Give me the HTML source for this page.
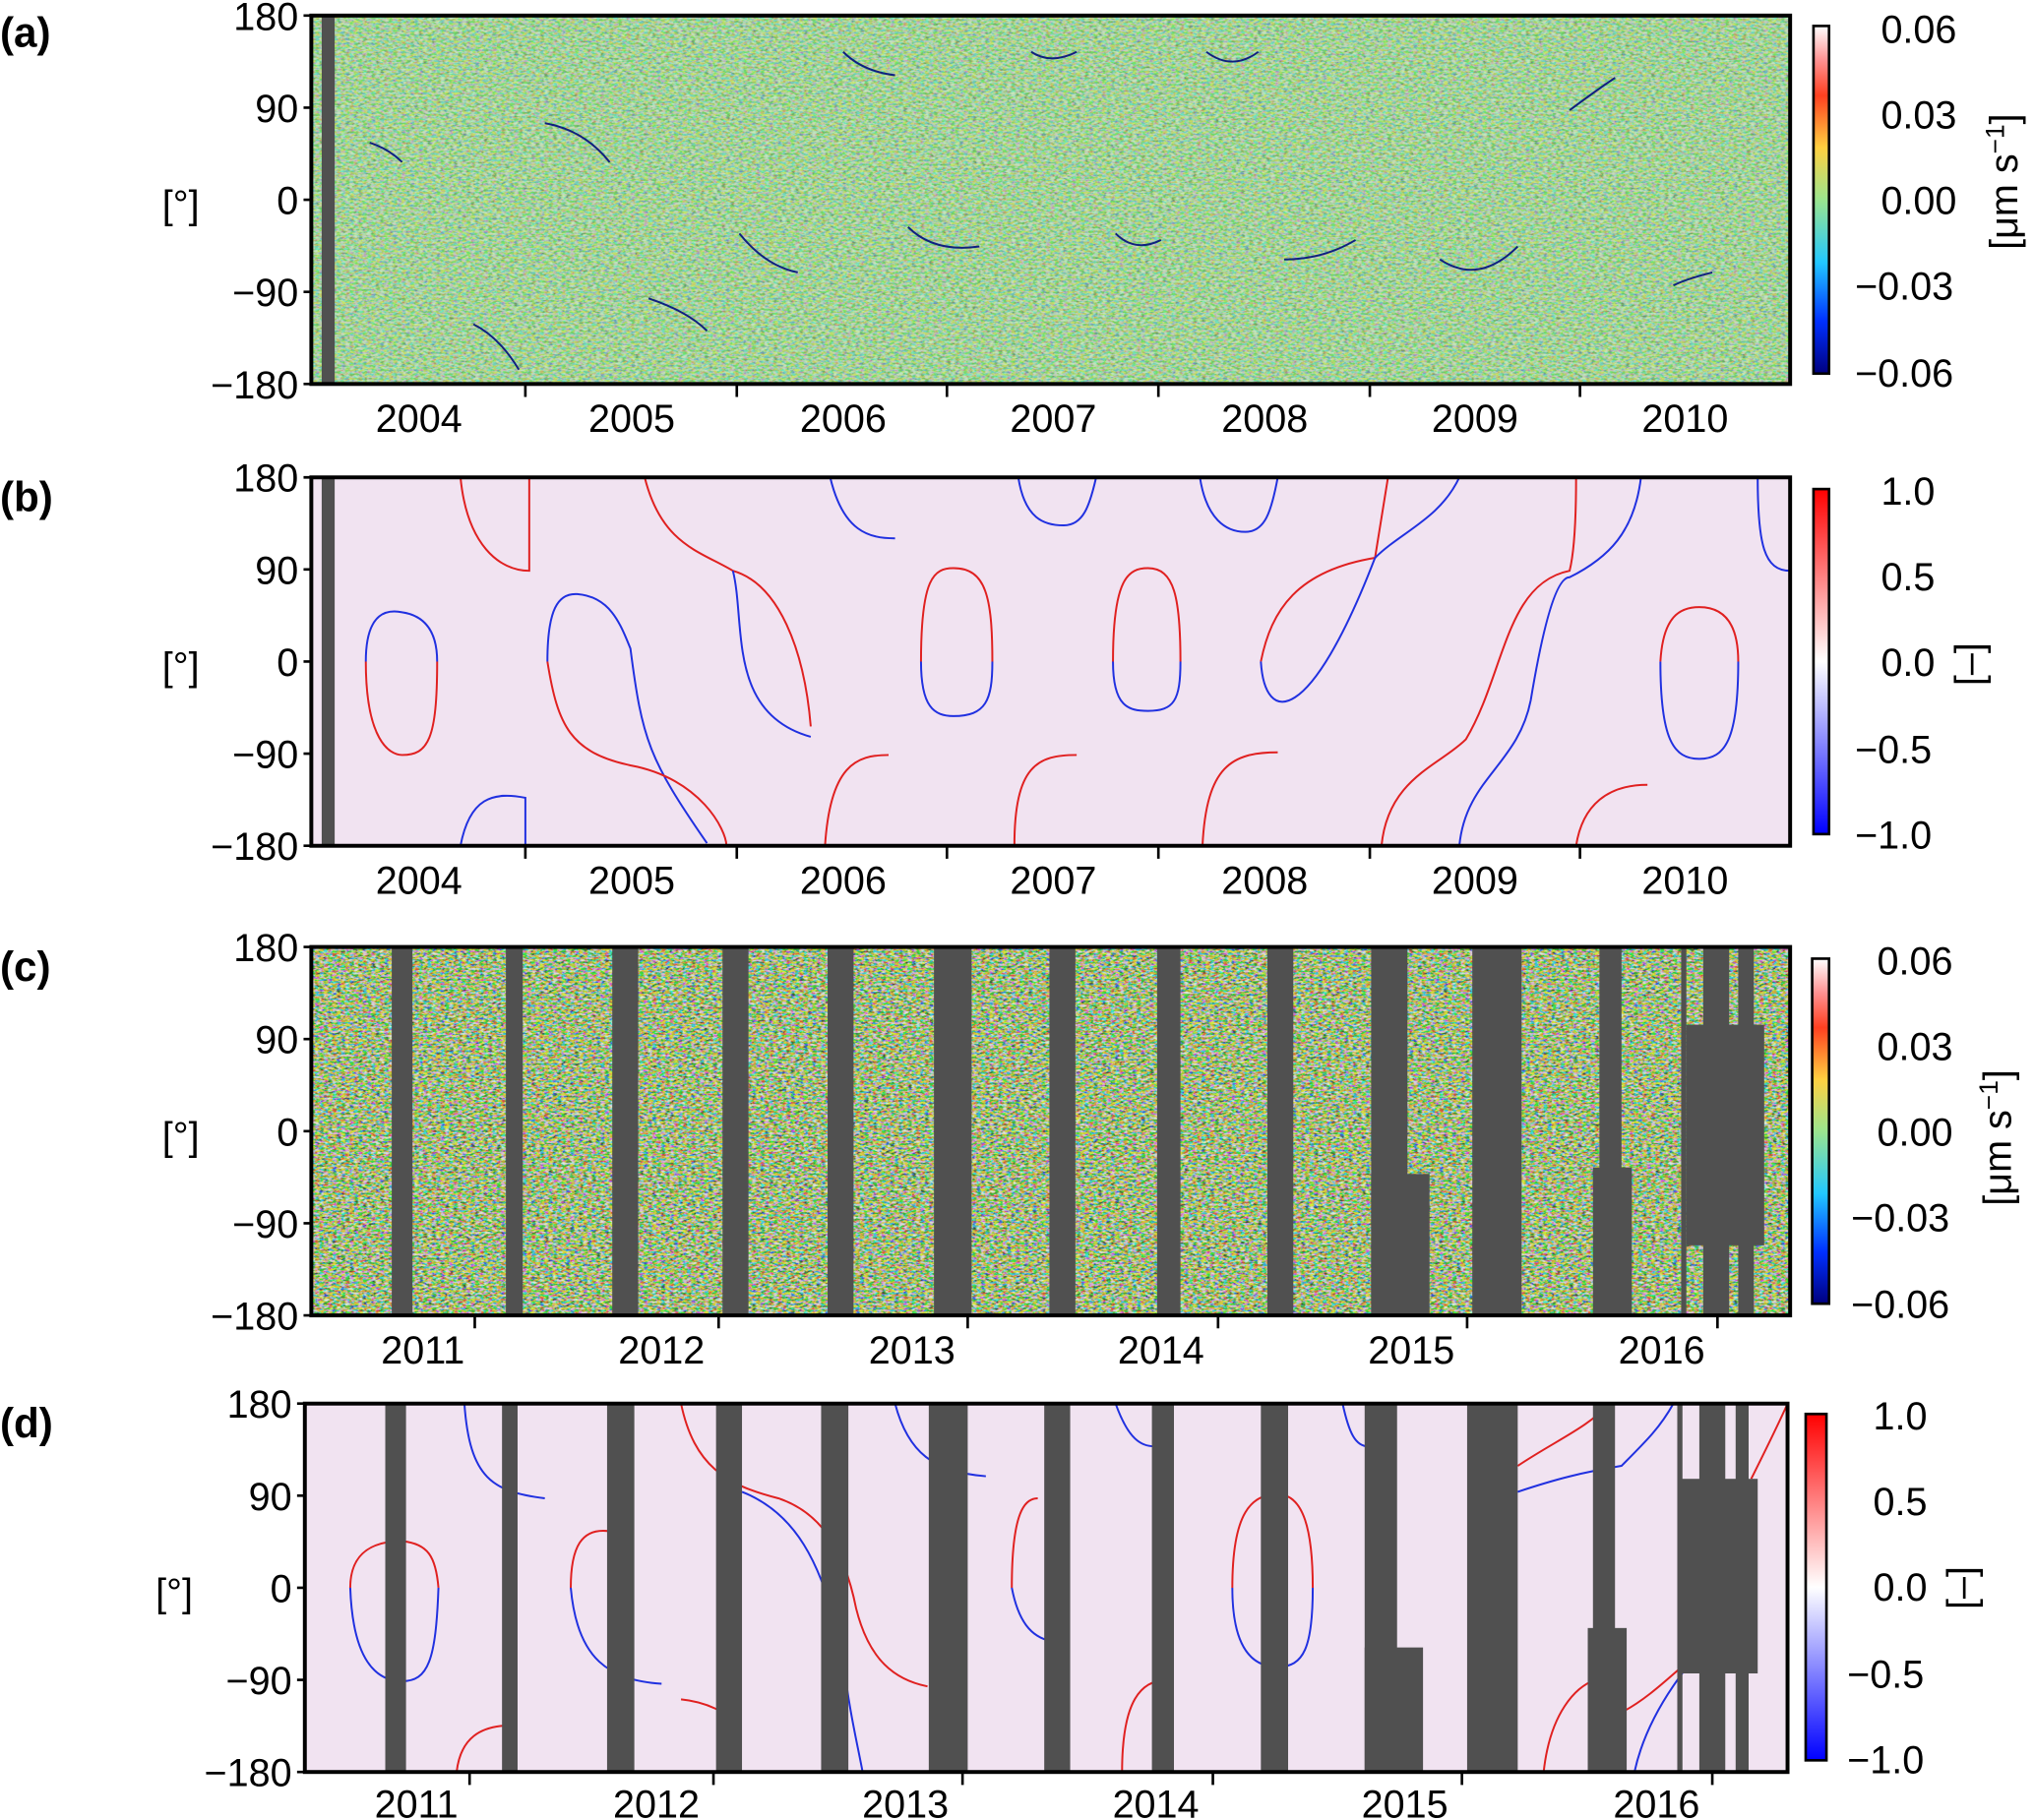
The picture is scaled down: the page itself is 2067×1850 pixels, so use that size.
<!DOCTYPE html>
<html><head><meta charset="utf-8"><style>
html,body{margin:0;padding:0;background:#fff}
svg{display:block}
text{font-family:"Liberation Sans",sans-serif;fill:#000}
</style></head><body>
<svg width="2067" height="1850" viewBox="0 0 1568 1403" preserveAspectRatio="none" xmlns="http://www.w3.org/2000/svg">
<defs>
<filter id="nzA" x="0" y="0" width="100%" height="100%">
<feTurbulence type="fractalNoise" baseFrequency="0.3 0.6" numOctaves="2" seed="7" result="t"/>
<feColorMatrix in="t" type="matrix" values="4 0 0 0 -1.6  0 -2 0 0 1.5  0 0 -5 0 2.9  0 0 0 0 0.32"/>
</filter>
<filter id="nzC" x="0" y="0" width="100%" height="100%">
<feTurbulence type="fractalNoise" baseFrequency="0.3 0.6" numOctaves="2" seed="11" result="t"/>
<feColorMatrix in="t" type="matrix" values="5 0 0 0 -2  0 -2 0 0 1.4  0 0 -6 0 3.2  0 0 0 0 0.6"/>
</filter>
<linearGradient id="jet" x1="0" y1="1" x2="0" y2="0">
<stop offset="0" stop-color="#00007f"/><stop offset="0.15" stop-color="#0030ff"/>
<stop offset="0.32" stop-color="#22c8ff"/><stop offset="0.5" stop-color="#9be58e"/>
<stop offset="0.65" stop-color="#ffd040"/><stop offset="0.8" stop-color="#ff4020"/>
<stop offset="0.9" stop-color="#ff9090"/><stop offset="1" stop-color="#ffffff"/>
</linearGradient>
<linearGradient id="bwr" x1="0" y1="1" x2="0" y2="0">
<stop offset="0" stop-color="#0000ff"/><stop offset="0.5" stop-color="#ffffff"/><stop offset="1" stop-color="#ff0000"/>
</linearGradient>
</defs>

<g font-weight="bold" font-size="32">
<text x="0" y="36">(a)</text><text x="0" y="394">(b)</text><text x="0" y="756">(c)</text><text x="0" y="1108">(d)</text>
</g>

<!-- PANEL A -->
<rect x="240" y="12" width="1140" height="284" fill="#a8dc9c"/>
<rect x="240" y="12" width="1140" height="284" filter="url(#nzA)"/>
<rect x="248" y="12" width="10" height="284" fill="#505050"/>
<g fill="none" stroke="#102080" stroke-width="1.5">
<path d="M285 110 Q300 115 310 125"/><path d="M420 95 Q450 100 470 125"/><path d="M500 230 Q530 240 545 255"/>
<path d="M365 250 Q385 260 400 285"/><path d="M570 180 Q590 205 615 210"/><path d="M650 40 Q665 55 690 58"/>
<path d="M700 175 Q720 195 755 190"/><path d="M795 40 Q810 50 830 40"/><path d="M860 180 Q875 195 895 185"/>
<path d="M930 40 Q950 55 970 40"/><path d="M990 200 Q1020 200 1045 185"/><path d="M1110 200 Q1140 220 1170 190"/><path d="M1210 85 Q1230 70 1245 60"/><path d="M1290 220 Q1300 215 1320 210"/>
</g>
<rect x="240" y="12" width="1140" height="284" fill="none" stroke="#000" stroke-width="3"/>

<!-- PANEL B -->
<rect x="240" y="368" width="1140" height="284" fill="#f1e3f1"/>
<rect x="248" y="368" width="10" height="284" fill="#505050"/>
<g fill="none" stroke-width="1.5">
<path d="M282 510 C282 470 300 470 310 472 C330 475 337 490 337 510" stroke="#2030e0"/>
<path d="M282 510 C282 570 300 582 310 582 C330 582 337 570 337 510" stroke="#e02020"/>
<path d="M355 368 C360 420 385 440 408 440 L408 368" stroke="#e02020"/>
<path d="M355 652 C362 615 380 610 405 615 L405 652" stroke="#2030e0"/>
<path d="M422 510 C422 470 430 457 445 458 C470 460 478 480 486 500 C495 570 500 585 545 650" stroke="#2030e0"/>
<path d="M422 510 C430 560 440 580 486 590 C540 600 560 640 560 652" stroke="#e02020"/>
<path d="M497 368 C510 420 540 425 565 440 C600 450 620 500 625 560" stroke="#e02020"/>
<path d="M565 440 C575 480 560 550 625 568" stroke="#2030e0"/>
<path d="M640 368 C650 410 670 415 690 415" stroke="#2030e0"/>
<path d="M710 510 C710 445 720 438 735 438 C760 438 765 460 765 510" stroke="#e02020"/>
<path d="M710 510 C710 545 720 552 735 552 C760 552 765 540 765 510" stroke="#2030e0"/>
<path d="M636 652 C640 590 660 582 685 582" stroke="#e02020"/>
<path d="M785 368 C790 400 805 405 820 405 C835 405 840 390 845 368" stroke="#2030e0"/>
<path d="M858 510 C858 445 870 438 885 438 C905 438 910 460 910 510" stroke="#e02020"/>
<path d="M858 510 C858 545 870 548 885 548 C905 548 910 540 910 510" stroke="#2030e0"/>
<path d="M782 652 C782 590 800 582 830 582" stroke="#e02020"/>
<path d="M925 368 C930 400 945 410 960 410 C975 410 980 395 985 368" stroke="#2030e0"/>
<path d="M927 652 C930 590 950 580 985 580" stroke="#e02020"/>
<path d="M972 510 C980 470 1000 440 1060 430 C1065 400 1068 380 1070 368" stroke="#e02020"/>
<path d="M972 510 C975 560 1010 560 1060 430" stroke="#2030e0"/>
<path d="M1060 430 C1080 410 1110 400 1125 368" stroke="#2030e0"/>
<path d="M1065 652 C1070 600 1110 590 1130 570 C1160 520 1160 450 1210 440 C1215 420 1215 380 1215 368" stroke="#e02020"/>
<path d="M1125 652 C1130 600 1170 590 1180 540 C1190 480 1200 445 1210 445 C1240 430 1260 410 1265 368" stroke="#2030e0"/>
<path d="M1280 510 C1282 475 1295 468 1310 468 C1335 468 1340 490 1340 510" stroke="#e02020"/>
<path d="M1280 510 C1280 570 1290 585 1310 585 C1330 585 1340 570 1340 510" stroke="#2030e0"/>
<path d="M1215 652 C1220 620 1240 605 1270 605" stroke="#e02020"/>
<path d="M1355 368 C1355 420 1360 440 1380 440" stroke="#2030e0"/>
</g>
<rect x="240" y="368" width="1140" height="284" fill="none" stroke="#000" stroke-width="3"/>

<!-- PANEL C -->
<rect x="240" y="730" width="1140" height="284" fill="#9cd898"/>
<rect x="240" y="730" width="1140" height="284" filter="url(#nzC)"/>
<g fill="#505050">
<rect x="302" y="730" width="16" height="284"/><rect x="390" y="730" width="13" height="284"/>
<rect x="472" y="730" width="20" height="284"/><rect x="557" y="730" width="20" height="284"/>
<rect x="638" y="730" width="20" height="284"/><rect x="720" y="730" width="29" height="284"/>
<rect x="809" y="730" width="20" height="284"/><rect x="892" y="730" width="18" height="284"/>
<rect x="977" y="730" width="20" height="284"/><rect x="1057" y="730" width="28" height="284"/>
<rect x="1057" y="905" width="45" height="109"/>
<rect x="1135" y="730" width="38" height="284"/><rect x="1233" y="730" width="17" height="284"/>
<rect x="1228" y="900" width="30" height="114"/>
<rect x="1296" y="730" width="4" height="284"/><rect x="1313" y="730" width="20" height="284"/>
<rect x="1340" y="730" width="12" height="284"/><rect x="1300" y="790" width="60" height="170"/>
</g>
<rect x="240" y="730" width="1140" height="284" fill="none" stroke="#000" stroke-width="3"/>

<!-- PANEL D -->
<rect x="235" y="1082" width="1143" height="284" fill="#f1e3f1"/>
<g fill="none" stroke-width="1.5">
<path d="M270 1224 C270 1195 290 1188 310 1188 C330 1190 336 1200 338 1224" stroke="#e02020"/>
<path d="M270 1224 C272 1280 290 1296 310 1296 C330 1296 336 1280 338 1224" stroke="#2030e0"/>
<path d="M352 1366 C355 1340 370 1330 395 1330" stroke="#e02020"/>
<path d="M358 1082 C362 1140 380 1150 420 1155" stroke="#2030e0"/>
<path d="M440 1224 C440 1190 450 1180 465 1180 C485 1180 488 1200 488 1224" stroke="#e02020"/>
<path d="M440 1224 C445 1280 470 1295 510 1298" stroke="#2030e0"/>
<path d="M525 1082 C535 1130 560 1145 600 1155 C630 1165 650 1190 660 1240 C670 1280 690 1295 715 1300" stroke="#e02020"/>
<path d="M572 1150 C610 1165 635 1200 650 1280 C655 1320 660 1340 665 1366" stroke="#2030e0"/>
<path d="M525 1310 C545 1312 560 1320 570 1330" stroke="#e02020"/>
<path d="M690 1082 C700 1120 720 1135 760 1138" stroke="#2030e0"/>
<path d="M780 1224 C780 1165 790 1155 800 1155" stroke="#e02020"/>
<path d="M780 1224 C785 1250 795 1262 810 1265" stroke="#2030e0"/>
<path d="M860 1082 C870 1110 880 1115 890 1115" stroke="#2030e0"/>
<path d="M950 1224 C950 1165 965 1152 985 1152 C1005 1152 1012 1180 1012 1224" stroke="#e02020"/>
<path d="M950 1224 C950 1270 965 1285 985 1285 C1005 1285 1012 1270 1012 1224" stroke="#2030e0"/>
<path d="M865 1366 C865 1310 880 1295 900 1295" stroke="#e02020"/>
<path d="M1035 1082 C1040 1105 1045 1115 1055 1115" stroke="#2030e0"/>
<path d="M1170 1150 C1200 1140 1220 1135 1250 1130 C1270 1110 1280 1100 1290 1082" stroke="#2030e0"/>
<path d="M1170 1130 C1200 1110 1225 1100 1240 1082" stroke="#e02020"/>
<path d="M1190 1366 C1195 1320 1215 1300 1230 1295" stroke="#e02020"/>
<path d="M1260 1366 C1270 1320 1300 1280 1350 1230" stroke="#2030e0"/>
<path d="M1250 1320 C1270 1310 1290 1290 1300 1282" stroke="#e02020"/>
<path d="M1350 1140 C1360 1120 1370 1100 1378 1082" stroke="#e02020"/>
</g>
<g fill="#505050">
<rect x="297" y="1082" width="16" height="284"/><rect x="387" y="1082" width="12" height="284"/>
<rect x="468" y="1082" width="21" height="284"/><rect x="552" y="1082" width="20" height="284"/>
<rect x="633" y="1082" width="21" height="284"/><rect x="716" y="1082" width="30" height="284"/>
<rect x="805" y="1082" width="20" height="284"/><rect x="888" y="1082" width="17" height="284"/>
<rect x="972" y="1082" width="21" height="284"/><rect x="1052" y="1082" width="25" height="284"/>
<rect x="1052" y="1270" width="45" height="96"/>
<rect x="1131" y="1082" width="39" height="284"/><rect x="1228" y="1082" width="17" height="284"/>
<rect x="1224" y="1255" width="30" height="111"/>
<rect x="1293" y="1082" width="4" height="284"/><rect x="1310" y="1082" width="20" height="284"/>
<rect x="1338" y="1082" width="10" height="284"/><rect x="1295" y="1140" width="60" height="150"/>
</g>
<rect x="235" y="1082" width="1143" height="284" fill="none" stroke="#000" stroke-width="3"/>

<g font-size="30" text-anchor="end">
<text x="230" y="23">180</text><text x="230" y="94">90</text><text x="230" y="165">0</text><text x="230" y="236">−90</text><text x="230" y="307">−180</text>
<text x="230" y="379">180</text><text x="230" y="450">90</text><text x="230" y="521">0</text><text x="230" y="592">−90</text><text x="230" y="663">−180</text>
<text x="230" y="741">180</text><text x="230" y="812">90</text><text x="230" y="883">0</text><text x="230" y="954">−90</text><text x="230" y="1025">−180</text>
<text x="225" y="1093">180</text><text x="225" y="1164">90</text><text x="225" y="1235">0</text><text x="225" y="1306">−90</text><text x="225" y="1377">−180</text>
</g>
<g font-size="30">
<text x="125" y="168">[°]</text><text x="125" y="524">[°]</text><text x="125" y="886">[°]</text><text x="120" y="1238">[°]</text>
</g>
<g stroke="#000" stroke-width="2">
<path d="M240 12h-6M240 83h-6M240 154h-6M240 225h-6M240 296h-6M240 368h-6M240 439h-6M240 510h-6M240 581h-6M240 652h-6M240 730h-6M240 801h-6M240 872h-6M240 943h-6M240 1014h-6M235 1082h-6M235 1153h-6M235 1224h-6M235 1295h-6M235 1366h-6"/>
<path d="M405 296v10M568 296v10M730 296v10M893 296v10M1056 296v10M1218 296v10M405 652v10M568 652v10M730 652v10M893 652v10M1056 652v10M1218 652v10"/>
<path d="M366 1014v10M554 1014v10M746 1014v10M939 1014v10M1131 1014v10M1324 1014v10M362 1366v10M550 1366v10M742 1366v10M935 1366v10M1127 1366v10M1320 1366v10"/>
</g>
<g font-size="30" text-anchor="middle">
<text x="323" y="333">2004</text><text x="487" y="333">2005</text><text x="650" y="333">2006</text><text x="812" y="333">2007</text><text x="975" y="333">2008</text><text x="1137" y="333">2009</text><text x="1299" y="333">2010</text>
<text x="323" y="689">2004</text><text x="487" y="689">2005</text><text x="650" y="689">2006</text><text x="812" y="689">2007</text><text x="975" y="689">2008</text><text x="1137" y="689">2009</text><text x="1299" y="689">2010</text>
<text x="326" y="1051">2011</text><text x="510" y="1051">2012</text><text x="703" y="1051">2013</text><text x="895" y="1051">2014</text><text x="1088" y="1051">2015</text><text x="1281" y="1051">2016</text>
<text x="321" y="1401">2011</text><text x="506" y="1401">2012</text><text x="698" y="1401">2013</text><text x="891" y="1401">2014</text><text x="1083" y="1401">2015</text><text x="1277" y="1401">2016</text>
</g>

<rect x="1398" y="20" width="12" height="268" fill="url(#jet)" stroke="#000" stroke-width="2"/>
<rect x="1398" y="377" width="12" height="266" fill="url(#bwr)" stroke="#000" stroke-width="2"/>
<rect x="1397" y="739" width="13" height="266" fill="url(#jet)" stroke="#000" stroke-width="2"/>
<rect x="1392" y="1090" width="16" height="267" fill="url(#bwr)" stroke="#000" stroke-width="2"/>
<g font-size="30">
<text x="1450" y="33">0.06</text><text x="1450" y="99">0.03</text><text x="1450" y="165">0.00</text><text x="1430" y="231">−0.03</text><text x="1430" y="298">−0.06</text>
<text x="1450" y="389">1.0</text><text x="1450" y="455">0.5</text><text x="1450" y="521">0.0</text><text x="1430" y="588">−0.5</text><text x="1430" y="654">−1.0</text>
<text x="1447" y="751">0.06</text><text x="1447" y="817">0.03</text><text x="1447" y="883">0.00</text><text x="1427" y="949">−0.03</text><text x="1427" y="1016">−0.06</text>
<text x="1444" y="1102">1.0</text><text x="1444" y="1168">0.5</text><text x="1444" y="1234">0.0</text><text x="1424" y="1301">−0.5</text><text x="1424" y="1367">−1.0</text>
</g>
<g font-size="30">
<text transform="translate(1555,140) rotate(-90)" text-anchor="middle">[μm s<tspan dy="-10" font-size="20">−1</tspan><tspan dy="10">]</tspan></text>
<text transform="translate(1528,512) rotate(-90)" text-anchor="middle">[–]</text>
<text transform="translate(1550,877) rotate(-90)" text-anchor="middle">[μm s<tspan dy="-10" font-size="20">−1</tspan><tspan dy="10">]</tspan></text>
<text transform="translate(1522,1224) rotate(-90)" text-anchor="middle">[–]</text>
</g>
</svg>
</body></html>
